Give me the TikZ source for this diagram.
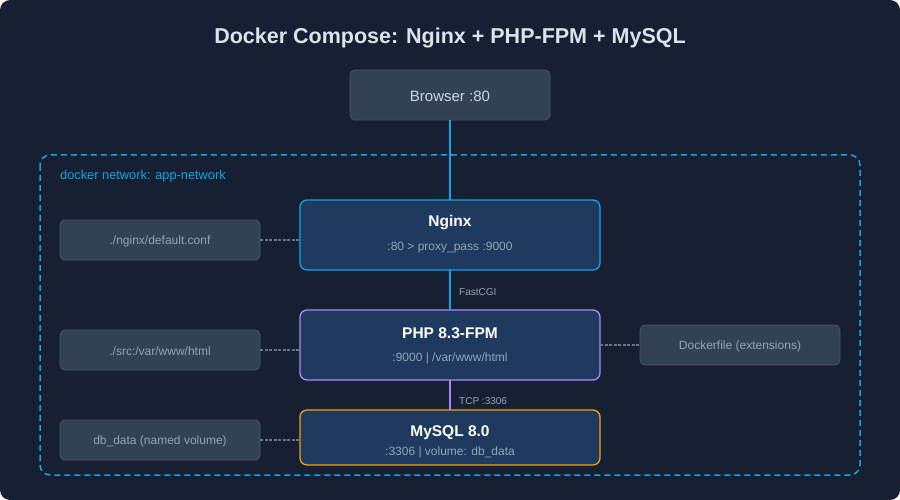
\documentclass[tikz,border=0pt]{standalone}
\usepackage{fontspec}
\setmainfont{Liberation Sans}
\begin{document}
\begin{tikzpicture}[x=1pt,y=-1pt,
  every node/.style={inner sep=0pt},
  side/.style={draw=sideb,fill=sidef,rounded corners=5pt,line width=0.8pt},
  main/.style={fill=mainf,rounded corners=7pt,line width=1.3pt},
  sub/.style={text=subc,font=\fontsize{12}{14}\selectfont},
  ttl/.style={text=white,font=\bfseries\fontsize{15.5}{18}\selectfont},
  dot/.style={draw=dotc,line width=1.6pt,dash pattern=on 3pt off 1.5pt}]
\definecolor{bg}{HTML}{172033}
\definecolor{sidef}{HTML}{334155}
\definecolor{sideb}{HTML}{475569}
\definecolor{mainf}{HTML}{1E3A5F}
\definecolor{blue}{HTML}{0EA5E9}
\definecolor{purp}{HTML}{A78BFA}
\definecolor{orng}{HTML}{F59E0B}
\definecolor{labc}{HTML}{CBD5E1}
\definecolor{subc}{HTML}{94A3B8}
\definecolor{dotc}{HTML}{64748B}
\useasboundingbox (0,0) rectangle (900,500);
\fill[bg,rounded corners=10pt] (0,0) rectangle (900,500);
\node[text=labc!70!white,font=\bfseries\fontsize{21.5}{26}\selectfont] (title) at (450,38) {Docker Compose: Nginx + PHP-FPM + MySQL};
\draw[blue,line width=1.5pt,dash pattern=on 6pt off 4pt,rounded corners=10pt] (40,155) rectangle (860,475);
\node[anchor=west,text=blue,font=\fontsize{12.8}{15}\selectfont] (net) at (60,176) {docker network: app-network};
% browser
\draw[side] (350,70) rectangle (550,120);
\node[text=labc,font=\fontsize{15}{18}\selectfont] (browser) at (450,96) {Browser :80};
\coordinate (bb) at (450,120);
% main boxes
\draw[main,draw=blue] (300,200) rectangle (600,270);
\draw[main,draw=purp] (300,310) rectangle (600,380);
\draw[main,draw=orng] (300,410) rectangle (600,465);
\coordinate (ngt) at (450,200); \coordinate (ngb) at (450,270); \coordinate (ngl) at (300,240);
\coordinate (pht) at (450,310); \coordinate (phb) at (450,380); \coordinate (phl) at (300,350); \coordinate (phr) at (600,345);
\coordinate (myt) at (450,410); \coordinate (myl) at (300,440);
\node[ttl] (nginx) at (450,223) {Nginx};
\node[sub] (nginxs) at (450,248) {:80 > proxy\_pass :9000};
\node[ttl] (php) at (450,333) {PHP 8.3-FPM};
\node[sub] (phps) at (450,358) {:9000 | /var/www/html};
\node[ttl] (mysql) at (450,433) {MySQL 8.0};
\node[sub] (mysqls) at (450,452) {:3306 | volume: db\_data};
% side boxes
\draw[side] (60,220) rectangle (260,260); \node[sub] (s1) at (160,241) {./nginx/default.conf}; \coordinate (s1r) at (260,240);
\draw[side] (60,330) rectangle (260,370); \node[sub] (s2) at (160,351) {./src:/var/www/html}; \coordinate (s2r) at (260,350);
\draw[side] (60,420) rectangle (260,460); \node[sub] (s3) at (160,441) {db\_data (named volume)}; \coordinate (s3r) at (260,440);
\draw[side] (640,325) rectangle (840,365); \node[sub] (s4) at (740,346) {Dockerfile (extensions)}; \coordinate (s4l) at (640,345);
% connectors
\draw[blue,line width=1.5pt] (bb) -- (ngt);
\draw[blue,line width=1.5pt] (ngb) -- (pht);
\draw[purp,line width=1.5pt] (phb) -- (myt);
\node[anchor=west,text=subc,font=\fontsize{10}{12}\selectfont] (fcgi) at (459,292) {FastCGI};
\node[anchor=west,text=subc,font=\fontsize{10}{12}\selectfont] (tcp) at (459,401) {TCP :3306};
\draw[dot] (s1r) -- (ngl);
\draw[dot] (s2r) -- (phl);
\draw[dot] (s3r) -- (myl);
\draw[dot] (phr) -- (s4l);
\end{tikzpicture}
\end{document}
